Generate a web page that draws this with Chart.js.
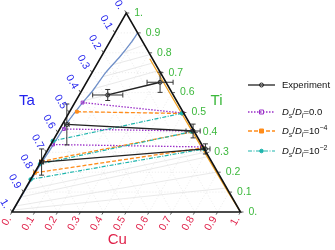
<!DOCTYPE html>
<html>
<head>
<meta charset="utf-8">
<script src="https://cdn.jsdelivr.net/npm/chart.js@4.4.0/dist/chart.umd.min.js"></script>
<style>
  html, body { margin: 0; padding: 0; background: #fff; }
  #wrap { width: 335px; height: 250px; }
</style>
</head>
<body>
<div id="wrap"><canvas id="ternaryChart" width="335" height="250"></canvas></div>
<script>
// All compositions are [Ti, Cu] fractions, Ta = 1 - Ti - Cu
const tickValues = [0, 0.1, 0.2, 0.3, 0.4, 0.5, 0.6, 0.7, 0.8, 0.9, 1];
const tickLabels = ['0.', '0.1', '0.2', '0.3', '0.4', '0.5', '0.6', '0.7', '0.8', '0.9', '1.'];

// measured tie lines (each: Ta-rich end, Ti-rich end)
const experimentLines = [
    [[0.588, 0.125], [0.652, 0.322]],
    [[0.440, 0.020], [0.407, 0.589]],
    [[0.251, 0.004], [0.317, 0.688]]
];
// error bar half widths, in plot units (horizontal / vertical)
const experimentErrX = [[0.066, 0.057], [0.010, 0.031], [0.009, 0.020]];
const experimentErrY = [[0.024, 0.044], [0.089, 0.030], [0.057, 0.022]];

// simulated tie lines
const ds0Lines = [
    [[0.550, 0.034], [0.497, 0.500]],
    [[0.417, 0.019], [0.407, 0.584]],
    [[0.339, 0.010], [0.327, 0.668]]
];
const ds4Lines = [
    [[0.504, 0.032], [0.495, 0.500]],
    [[0.254, 0.000], [0.402, 0.587]],
    [[0.197, 0.002], [0.322, 0.675]]
];
const ds2Lines = [
    [[0.357, 0.000], [0.496, 0.496]],
    [[0.241, 0.002], [0.404, 0.585]],
    [[0.164, 0.000], [0.317, 0.682]]
];

// phase boundaries
const taBoundary = [
    [0.90, 0.100], [0.85, 0.095], [0.78, 0.082], [0.70, 0.060], [0.613, 0.049],
    [0.538, 0.032], [0.437, 0.016], [0.31, 0.010], [0.236, 0.005], [0.11, 0.002], [0, 0]
];
const tiBoundary = [[0.77, 0.218], [0.5, 0.49], [0.3, 0.693], [0.1, 0.896], [0, 1.0]];

// faint computed tie lines
const tieLines = [
    [[0.80, 0.085], [0.84, 0.160]],
    [[0.74, 0.070], [0.79, 0.205]],
    [[0.68, 0.058], [0.75, 0.245]],
    [[0.62, 0.050], [0.71, 0.285]],
    [[0.56, 0.037], [0.66, 0.335]],
    [[0.11, 0.002], [0.30, 0.695]],
    [[0.075, 0.0], [0.278, 0.718]],
    [[0.03, 0.0], [0.20, 0.795]],
    [[0.01, 0.0], [0.12, 0.875]]
];

const H = Math.sqrt(3) / 2;
const TA_COLOR = '#2222ee';
const TI_COLOR = '#3cb83c';
const CU_COLOR = '#e0224a';
const FONT = '"Liberation Sans", Arial, sans-serif';

const seriesStyle = {
    exp: { color: '#222222', width: 1.3, dash: [], pointStyle: 'circle', radius: 2, fill: 'rgba(255,255,255,0)' },
    ds0: { color: '#9b30c8', width: 1.3, dash: [1.5, 1.5], pointStyle: 'rect', radius: 2, fill: 'rgba(255,255,255,0)' },
    ds4: { color: '#ff8c1a', width: 1.3, dash: [4, 2], pointStyle: 'rect', radius: 2, fill: '#ff8c1a' },
    ds2: { color: '#1fb5ad', width: 1.2, dash: [4, 1.5, 1, 1.5], pointStyle: 'circle', radius: 1.8, fill: '#1fb5ad' }
};

function toXY(p) {
    return { x: p[1] + p[0] / 2, y: p[0] * H };
}

function lineDataset(points, st, order) {
    return {
        data: points.map(toXY),
        showLine: true,
        borderColor: st.color,
        borderWidth: st.width,
        borderDash: st.dash,
        pointStyle: st.pointStyle,
        pointRadius: st.radius,
        pointBorderWidth: 1,
        pointBorderColor: st.color,
        pointBackgroundColor: st.fill,
        fill: false,
        clip: false,
        order: order
    };
}

const datasets = [];
tieLines.forEach(l => datasets.push({
    data: l.map(toXY), showLine: true, borderColor: '#e3e3e3', borderWidth: 0.8,
    pointRadius: 0, fill: false, clip: false, order: 6
}));
datasets.push({ data: taBoundary.map(toXY), showLine: true, borderColor: '#6f8fc8', borderWidth: 1.3,
    pointRadius: 0, tension: 0.3, fill: false, clip: false, order: 5 });
datasets.push({ data: tiBoundary.map(toXY), showLine: true, borderColor: '#f0a020', borderWidth: 1.3,
    pointRadius: 0, fill: false, clip: false, order: 5 });
ds0Lines.forEach(l => datasets.push(lineDataset(l, seriesStyle.ds0, 4)));
ds4Lines.forEach(l => datasets.push(lineDataset(l, seriesStyle.ds4, 3)));
ds2Lines.forEach(l => datasets.push(lineDataset(l, seriesStyle.ds2, 2)));
experimentLines.forEach(l => datasets.push(lineDataset(l, seriesStyle.exp, 1)));

// draws grid, triangle, ticks, error bars and the legend
const ternaryDecor = {
    id: 'ternaryDecor',
    beforeDatasetsDraw(chart) {
        const ctx = chart.ctx;
        const pix = p => {
            const q = toXY(p);
            return { x: chart.scales.x.getPixelForValue(q.x), y: chart.scales.y.getPixelForValue(q.y) };
        };
        ctx.save();
        ctx.strokeStyle = '#dedede';
        ctx.lineWidth = 0.6;
        ctx.setLineDash([1, 2]);
        for (let i = 1; i < 10; i++) {
            const v = tickValues[i];
            [[[v, 0], [v, 1 - v]], [[0, v], [1 - v, v]], [[0, 1 - v], [1 - v, 0]]].forEach(seg => {
                const a = pix(seg[0]), b = pix(seg[1]);
                ctx.beginPath();
                ctx.moveTo(a.x, a.y);
                ctx.lineTo(b.x, b.y);
                ctx.stroke();
            });
        }
        ctx.restore();
    },
    afterDatasetsDraw(chart) {
        const ctx = chart.ctx;
        const xs = chart.scales.x, ys = chart.scales.y;
        const pix = p => {
            const q = toXY(p);
            return { x: xs.getPixelForValue(q.x), y: ys.getPixelForValue(q.y) };
        };
        ctx.save();

        // error bars
        ctx.strokeStyle = '#333';
        ctx.lineWidth = 1;
        experimentLines.forEach((line, i) => {
            line.forEach((p, j) => {
                const q = toXY(p);
                const cx = xs.getPixelForValue(q.x), cy = ys.getPixelForValue(q.y);
                const x0 = xs.getPixelForValue(q.x - experimentErrX[i][j]);
                const x1 = xs.getPixelForValue(q.x + experimentErrX[i][j]);
                const y0 = ys.getPixelForValue(q.y - experimentErrY[i][j]);
                const y1 = ys.getPixelForValue(q.y + experimentErrY[i][j]);
                ctx.beginPath();
                ctx.moveTo(x0, cy); ctx.lineTo(x1, cy);
                ctx.moveTo(x0, cy - 2.5); ctx.lineTo(x0, cy + 2.5);
                ctx.moveTo(x1, cy - 2.5); ctx.lineTo(x1, cy + 2.5);
                ctx.moveTo(cx, y0); ctx.lineTo(cx, y1);
                ctx.moveTo(cx - 2.5, y0); ctx.lineTo(cx + 2.5, y0);
                ctx.moveTo(cx - 2.5, y1); ctx.lineTo(cx + 2.5, y1);
                ctx.stroke();
            });
        });

        // triangle
        const A = pix([0, 0]), B = pix([0, 1]), C = pix([1, 0]);
        ctx.strokeStyle = '#111';
        ctx.lineWidth = 1.6;
        ctx.beginPath();
        ctx.moveTo(A.x, A.y); ctx.lineTo(B.x, B.y); ctx.lineTo(C.x, C.y); ctx.closePath();
        ctx.stroke();

        // ticks and tick labels
        ctx.lineWidth = 0.8;
        ctx.font = '10.5px ' + FONT;
        ctx.textBaseline = 'middle';
        tickValues.forEach((v, i) => {
            const lab = tickLabels[i];
            // Cu, bottom edge
            let p = pix([0, v]);
            ctx.strokeStyle = '#333';
            ctx.beginPath(); ctx.moveTo(p.x, p.y); ctx.lineTo(p.x - 1.5, p.y + 2.6); ctx.stroke();
            ctx.save();
            ctx.translate(p.x - 3, p.y + 5.2);
            ctx.rotate(-Math.PI / 3);
            ctx.fillStyle = CU_COLOR;
            ctx.textAlign = 'right';
            ctx.fillText(lab, 0, 0);
            ctx.restore();
            // Ti, right edge
            p = pix([v, 1 - v]);
            ctx.beginPath(); ctx.moveTo(p.x, p.y); ctx.lineTo(p.x + 3, p.y); ctx.stroke();
            ctx.fillStyle = TI_COLOR;
            ctx.textAlign = 'left';
            ctx.fillText(lab, p.x + 8, p.y);
            // Ta, left edge
            p = pix([1 - v, 0]);
            ctx.beginPath(); ctx.moveTo(p.x, p.y); ctx.lineTo(p.x - 1.5, p.y - 2.6); ctx.stroke();
            ctx.save();
            ctx.translate(p.x - 5, p.y - 4.3);
            ctx.rotate(Math.PI / 3);
            ctx.fillStyle = TA_COLOR;
            ctx.textAlign = 'right';
            ctx.fillText(lab, 0, 0);
            ctx.restore();
        });

        // axis titles
        const area = chart.chartArea;
        ctx.font = '15px ' + FONT;
        ctx.textAlign = 'center';
        ctx.fillStyle = TA_COLOR;
        ctx.fillText('Ta', area.left + 15, 101);
        ctx.fillStyle = TI_COLOR;
        ctx.fillText('Ti', area.right - 24, 101);
        ctx.fillStyle = CU_COLOR;
        ctx.fillText('Cu', (area.left + area.right) / 2 - 9, 240);

        // legend
        const rows = [
            { st: seriesStyle.exp, y: 85, parts: [{ t: 'Experiment' }] },
            { st: seriesStyle.ds0, y: 112, parts: [{ t: 'D', i: 1 }, { t: 's', i: 1, sub: 1 }, { t: '/' }, { t: 'D', i: 1 }, { t: 'l', i: 1, sub: 1 }, { t: '=0.0' }] },
            { st: seriesStyle.ds4, y: 131, parts: [{ t: 'D', i: 1 }, { t: 's', i: 1, sub: 1 }, { t: '/' }, { t: 'D', i: 1 }, { t: 'l', i: 1, sub: 1 }, { t: '=10' }, { t: '\u22124', sup: 1 }] },
            { st: seriesStyle.ds2, y: 151, parts: [{ t: 'D', i: 1 }, { t: 's', i: 1, sub: 1 }, { t: '/' }, { t: 'D', i: 1 }, { t: 'l', i: 1, sub: 1 }, { t: '=10' }, { t: '\u22122', sup: 1 }] }
        ];
        rows.forEach(r => {
            ctx.strokeStyle = r.st.color;
            ctx.lineWidth = r.st.width;
            ctx.setLineDash(r.st.dash);
            ctx.beginPath(); ctx.moveTo(248, r.y); ctx.lineTo(275, r.y); ctx.stroke();
            ctx.setLineDash([]);
            ctx.lineWidth = 1;
            ctx.fillStyle = r.st.fill;
            ctx.beginPath();
            if (r.st.pointStyle === 'rect') {
                ctx.rect(261.5 - r.st.radius, r.y - r.st.radius, r.st.radius * 2, r.st.radius * 2);
            } else {
                ctx.arc(261.5, r.y, r.st.radius, 0, Math.PI * 2);
            }
            ctx.fill();
            ctx.stroke();

            let x = 282;
            ctx.fillStyle = '#111';
            ctx.textAlign = 'left';
            ctx.textBaseline = 'alphabetic';
            r.parts.forEach(pt => {
                const size = (pt.sub || pt.sup) ? 7 : 9.5;
                ctx.font = (pt.i ? 'italic ' : '') + size + 'px ' + FONT;
                const dy = pt.sub ? 2.5 : (pt.sup ? -4 : 0);
                ctx.fillText(pt.t, x, r.y + 3.4 + dy);
                x += ctx.measureText(pt.t).width;
            });
        });
        ctx.restore();
    }
};

new Chart(document.getElementById('ternaryChart').getContext('2d'), {
    type: 'scatter',
    data: { datasets: datasets },
    options: {
        responsive: false,
        animation: false,
        devicePixelRatio: 1,
        layout: { padding: { left: 12, right: 94.5, top: 13, bottom: 38 } },
        plugins: { legend: { display: false }, tooltip: { enabled: false } },
        scales: {
            x: { type: 'linear', min: 0, max: 1, display: false },
            y: { type: 'linear', min: 0, max: H, display: false }
        }
    },
    plugins: [ternaryDecor]
});
</script>
</body>
</html>
